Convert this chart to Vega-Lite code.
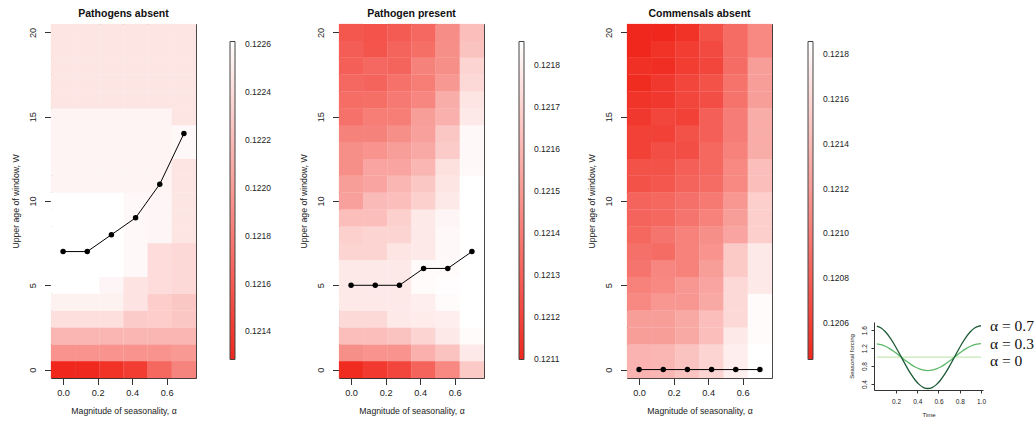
{
"$schema": "https://vega.github.io/schema/vega-lite/v6.json",
"background": "white",
"padding": {"left": 11, "top": 8, "right": 0, "bottom": 0},
"config": {
 "font": "Liberation Sans",
 "view": {"stroke": "#333", "strokeWidth": 1},
 "axis": {"grid": false, "domain": false, "tickSize": 6.5, "tickColor": "#333", "labelFontSize": 9.2, "titleFontSize": 8.7, "titleFontWeight": "normal", "labelColor": "#222", "titleColor": "#222", "labelFont": "Liberation Sans", "titleFont": "Liberation Sans"},
 "axisY": {"labelAngle": -90, "labelPadding": 7.5, "titlePadding": 7.5},
 "axisX": {"labelPadding": 4, "titlePadding": 9},
 "legend": {"gradientStrokeColor": "#444", "gradientStrokeWidth": 1, "labelFontSize": 8.5, "labelColor": "#222", "labelFont": "Liberation Sans"},
 "title": {"font": "Liberation Sans", "fontSize": 10.5, "fontWeight": "bold", "offset": 4, "color": "#111"}
},
"datasets": {
 "absent": [
  {"a":0,"w":0,"v":0.121283},{"a":0.14,"w":0,"v":0.121296},{"a":0.28,"w":0,"v":0.121349},{"a":0.42,"w":0,"v":0.121416},{"a":0.56,"w":0,"v":0.121681},{"a":0.7,"w":0,"v":0.121854},
  {"a":0,"w":1,"v":0.121947},{"a":0.14,"w":1,"v":0.121947},{"a":0.28,"w":1,"v":0.121947},{"a":0.42,"w":1,"v":0.121947},{"a":0.56,"w":1,"v":0.121947},{"a":0.7,"w":1,"v":0.121986},
  {"a":0,"w":2,"v":0.122159},{"a":0.14,"w":2,"v":0.122159},{"a":0.28,"w":2,"v":0.122159},{"a":0.42,"w":2,"v":0.122159},{"a":0.56,"w":2,"v":0.122159},{"a":0.7,"w":2,"v":0.122159},
  {"a":0,"w":3,"v":0.122411},{"a":0.14,"w":3,"v":0.122411},{"a":0.28,"w":3,"v":0.122411},{"a":0.42,"w":3,"v":0.122292},{"a":0.56,"w":3,"v":0.122305},{"a":0.7,"w":3,"v":0.122265},
  {"a":0,"w":4,"v":0.12253},{"a":0.14,"w":4,"v":0.12253},{"a":0.28,"w":4,"v":0.12253},{"a":0.42,"w":4,"v":0.122437},{"a":0.56,"w":4,"v":0.122305},{"a":0.7,"w":4,"v":0.122265},
  {"a":0,"w":5,"v":0.12261},{"a":0.14,"w":5,"v":0.12261},{"a":0.28,"w":5,"v":0.122557},{"a":0.42,"w":5,"v":0.122437},{"a":0.56,"w":5,"v":0.122398},{"a":0.7,"w":5,"v":0.122371},
  {"a":0,"w":6,"v":0.12261},{"a":0.14,"w":6,"v":0.12261},{"a":0.28,"w":6,"v":0.12261},{"a":0.42,"w":6,"v":0.12257},{"a":0.56,"w":6,"v":0.122398},{"a":0.7,"w":6,"v":0.122371},
  {"a":0,"w":7,"v":0.12261},{"a":0.14,"w":7,"v":0.12261},{"a":0.28,"w":7,"v":0.12261},{"a":0.42,"w":7,"v":0.12257},{"a":0.56,"w":7,"v":0.122398},{"a":0.7,"w":7,"v":0.122371},
  {"a":0,"w":8,"v":0.12261},{"a":0.14,"w":8,"v":0.12261},{"a":0.28,"w":8,"v":0.12261},{"a":0.42,"w":8,"v":0.12257},{"a":0.56,"w":8,"v":0.122557},{"a":0.7,"w":8,"v":0.122451},
  {"a":0,"w":9,"v":0.12261},{"a":0.14,"w":9,"v":0.12261},{"a":0.28,"w":9,"v":0.12261},{"a":0.42,"w":9,"v":0.12257},{"a":0.56,"w":9,"v":0.122557},{"a":0.7,"w":9,"v":0.122451},
  {"a":0,"w":10,"v":0.12261},{"a":0.14,"w":10,"v":0.12261},{"a":0.28,"w":10,"v":0.12261},{"a":0.42,"w":10,"v":0.12257},{"a":0.56,"w":10,"v":0.122557},{"a":0.7,"w":10,"v":0.122451},
  {"a":0,"w":11,"v":0.122544},{"a":0.14,"w":11,"v":0.122544},{"a":0.28,"w":11,"v":0.122544},{"a":0.42,"w":11,"v":0.122544},{"a":0.56,"w":11,"v":0.122544},{"a":0.7,"w":11,"v":0.122451},
  {"a":0,"w":12,"v":0.122544},{"a":0.14,"w":12,"v":0.122544},{"a":0.28,"w":12,"v":0.122544},{"a":0.42,"w":12,"v":0.122544},{"a":0.56,"w":12,"v":0.122544},{"a":0.7,"w":12,"v":0.122451},
  {"a":0,"w":13,"v":0.122544},{"a":0.14,"w":13,"v":0.122544},{"a":0.28,"w":13,"v":0.122544},{"a":0.42,"w":13,"v":0.122544},{"a":0.56,"w":13,"v":0.122544},{"a":0.7,"w":13,"v":0.12257},
  {"a":0,"w":14,"v":0.122544},{"a":0.14,"w":14,"v":0.122544},{"a":0.28,"w":14,"v":0.122544},{"a":0.42,"w":14,"v":0.122544},{"a":0.56,"w":14,"v":0.122544},{"a":0.7,"w":14,"v":0.12257},
  {"a":0,"w":15,"v":0.122544},{"a":0.14,"w":15,"v":0.122544},{"a":0.28,"w":15,"v":0.122544},{"a":0.42,"w":15,"v":0.122544},{"a":0.56,"w":15,"v":0.122544},{"a":0.7,"w":15,"v":0.122451},
  {"a":0,"w":16,"v":0.122451},{"a":0.14,"w":16,"v":0.122451},{"a":0.28,"w":16,"v":0.122451},{"a":0.42,"w":16,"v":0.122451},{"a":0.56,"w":16,"v":0.122451},{"a":0.7,"w":16,"v":0.122451},
  {"a":0,"w":17,"v":0.122451},{"a":0.14,"w":17,"v":0.122451},{"a":0.28,"w":17,"v":0.122451},{"a":0.42,"w":17,"v":0.122451},{"a":0.56,"w":17,"v":0.122451},{"a":0.7,"w":17,"v":0.122451},
  {"a":0,"w":18,"v":0.122451},{"a":0.14,"w":18,"v":0.122451},{"a":0.28,"w":18,"v":0.122451},{"a":0.42,"w":18,"v":0.122451},{"a":0.56,"w":18,"v":0.122451},{"a":0.7,"w":18,"v":0.122451},
  {"a":0,"w":19,"v":0.122451},{"a":0.14,"w":19,"v":0.122451},{"a":0.28,"w":19,"v":0.122451},{"a":0.42,"w":19,"v":0.122451},{"a":0.56,"w":19,"v":0.122451},{"a":0.7,"w":19,"v":0.122451},
  {"a":0,"w":20,"v":0.122451},{"a":0.14,"w":20,"v":0.122451},{"a":0.28,"w":20,"v":0.122451},{"a":0.42,"w":20,"v":0.122451},{"a":0.56,"w":20,"v":0.122451},{"a":0.7,"w":20,"v":0.122451}
 ],
 "present": [
  {"a":0,"w":0,"v":0.121115},{"a":0.14,"w":0,"v":0.12116},{"a":0.28,"w":0,"v":0.121206},{"a":0.42,"w":0,"v":0.121312},{"a":0.56,"w":0,"v":0.12144},{"a":0.7,"w":0,"v":0.121667},
  {"a":0,"w":1,"v":0.121463},{"a":0.14,"w":1,"v":0.121478},{"a":0.28,"w":1,"v":0.121478},{"a":0.42,"w":1,"v":0.121584},{"a":0.56,"w":1,"v":0.121644},{"a":0.7,"w":1,"v":0.12178},
  {"a":0,"w":2,"v":0.121629},{"a":0.14,"w":2,"v":0.121629},{"a":0.28,"w":2,"v":0.121644},{"a":0.42,"w":2,"v":0.121705},{"a":0.56,"w":2,"v":0.12178},{"a":0.7,"w":2,"v":0.121841},
  {"a":0,"w":3,"v":0.12172},{"a":0.14,"w":3,"v":0.12172},{"a":0.28,"w":3,"v":0.12178},{"a":0.42,"w":3,"v":0.121788},{"a":0.56,"w":3,"v":0.121796},{"a":0.7,"w":3,"v":0.121856},
  {"a":0,"w":4,"v":0.12178},{"a":0.14,"w":4,"v":0.12178},{"a":0.28,"w":4,"v":0.12178},{"a":0.42,"w":4,"v":0.121796},{"a":0.56,"w":4,"v":0.121841},{"a":0.7,"w":4,"v":0.121856},
  {"a":0,"w":5,"v":0.12178},{"a":0.14,"w":5,"v":0.12178},{"a":0.28,"w":5,"v":0.12178},{"a":0.42,"w":5,"v":0.121841},{"a":0.56,"w":5,"v":0.121848},{"a":0.7,"w":5,"v":0.121856},
  {"a":0,"w":6,"v":0.12178},{"a":0.14,"w":6,"v":0.12178},{"a":0.28,"w":6,"v":0.12178},{"a":0.42,"w":6,"v":0.121841},{"a":0.56,"w":6,"v":0.121841},{"a":0.7,"w":6,"v":0.121856},
  {"a":0,"w":7,"v":0.121705},{"a":0.14,"w":7,"v":0.121705},{"a":0.28,"w":7,"v":0.121765},{"a":0.42,"w":7,"v":0.12178},{"a":0.56,"w":7,"v":0.121833},{"a":0.7,"w":7,"v":0.121856},
  {"a":0,"w":8,"v":0.12169},{"a":0.14,"w":8,"v":0.121705},{"a":0.28,"w":8,"v":0.121705},{"a":0.42,"w":8,"v":0.12178},{"a":0.56,"w":8,"v":0.121833},{"a":0.7,"w":8,"v":0.121856},
  {"a":0,"w":9,"v":0.121629},{"a":0.14,"w":9,"v":0.121629},{"a":0.28,"w":9,"v":0.12169},{"a":0.42,"w":9,"v":0.12178},{"a":0.56,"w":9,"v":0.121826},{"a":0.7,"w":9,"v":0.121856},
  {"a":0,"w":10,"v":0.121523},{"a":0.14,"w":10,"v":0.121614},{"a":0.28,"w":10,"v":0.121629},{"a":0.42,"w":10,"v":0.12169},{"a":0.56,"w":10,"v":0.12178},{"a":0.7,"w":10,"v":0.121856},
  {"a":0,"w":11,"v":0.121516},{"a":0.14,"w":11,"v":0.121538},{"a":0.28,"w":11,"v":0.121599},{"a":0.42,"w":11,"v":0.121659},{"a":0.56,"w":11,"v":0.121765},{"a":0.7,"w":11,"v":0.121856},
  {"a":0,"w":12,"v":0.121463},{"a":0.14,"w":12,"v":0.121538},{"a":0.28,"w":12,"v":0.121538},{"a":0.42,"w":12,"v":0.121599},{"a":0.56,"w":12,"v":0.12175},{"a":0.7,"w":12,"v":0.121833},
  {"a":0,"w":13,"v":0.121463},{"a":0.14,"w":13,"v":0.121478},{"a":0.28,"w":13,"v":0.121516},{"a":0.42,"w":13,"v":0.121554},{"a":0.56,"w":13,"v":0.121675},{"a":0.7,"w":13,"v":0.121833},
  {"a":0,"w":14,"v":0.121418},{"a":0.14,"w":14,"v":0.121418},{"a":0.28,"w":14,"v":0.121463},{"a":0.42,"w":14,"v":0.121523},{"a":0.56,"w":14,"v":0.121659},{"a":0.7,"w":14,"v":0.121833},
  {"a":0,"w":15,"v":0.121357},{"a":0.14,"w":15,"v":0.121402},{"a":0.28,"w":15,"v":0.121402},{"a":0.42,"w":15,"v":0.121516},{"a":0.56,"w":15,"v":0.121584},{"a":0.7,"w":15,"v":0.12178},
  {"a":0,"w":16,"v":0.121342},{"a":0.14,"w":16,"v":0.121349},{"a":0.28,"w":16,"v":0.121387},{"a":0.42,"w":16,"v":0.121433},{"a":0.56,"w":16,"v":0.121569},{"a":0.7,"w":16,"v":0.121765},
  {"a":0,"w":17,"v":0.121327},{"a":0.14,"w":17,"v":0.121312},{"a":0.28,"w":17,"v":0.121357},{"a":0.42,"w":17,"v":0.121402},{"a":0.56,"w":17,"v":0.121493},{"a":0.7,"w":17,"v":0.12172},
  {"a":0,"w":18,"v":0.121297},{"a":0.14,"w":18,"v":0.121327},{"a":0.28,"w":18,"v":0.121312},{"a":0.42,"w":18,"v":0.121418},{"a":0.56,"w":18,"v":0.121463},{"a":0.7,"w":18,"v":0.121705},
  {"a":0,"w":19,"v":0.121289},{"a":0.14,"w":19,"v":0.121259},{"a":0.28,"w":19,"v":0.121312},{"a":0.42,"w":19,"v":0.121349},{"a":0.56,"w":19,"v":0.121463},{"a":0.7,"w":19,"v":0.121644},
  {"a":0,"w":20,"v":0.121266},{"a":0.14,"w":20,"v":0.121251},{"a":0.28,"w":20,"v":0.121281},{"a":0.42,"w":20,"v":0.121327},{"a":0.56,"w":20,"v":0.121455},{"a":0.7,"w":20,"v":0.121629}
 ],
 "commensal": [
  {"a":0,"w":0,"v":0.12136},{"a":0.14,"w":0,"v":0.121374},{"a":0.28,"w":0,"v":0.121459},{"a":0.42,"w":0,"v":0.121572},{"a":0.56,"w":0,"v":0.121742},{"a":0.7,"w":0,"v":0.121856},
  {"a":0,"w":1,"v":0.12136},{"a":0.14,"w":1,"v":0.121374},{"a":0.28,"w":1,"v":0.121459},{"a":0.42,"w":1,"v":0.121572},{"a":0.56,"w":1,"v":0.121742},{"a":0.7,"w":1,"v":0.121856},
  {"a":0,"w":2,"v":0.121218},{"a":0.14,"w":2,"v":0.121218},{"a":0.28,"w":2,"v":0.121289},{"a":0.42,"w":2,"v":0.121431},{"a":0.56,"w":2,"v":0.121714},{"a":0.7,"w":2,"v":0.121828},
  {"a":0,"w":3,"v":0.121218},{"a":0.14,"w":3,"v":0.121218},{"a":0.28,"w":3,"v":0.121289},{"a":0.42,"w":3,"v":0.121431},{"a":0.56,"w":3,"v":0.121601},{"a":0.7,"w":3,"v":0.121828},
  {"a":0,"w":4,"v":0.121076},{"a":0.14,"w":4,"v":0.121175},{"a":0.28,"w":4,"v":0.121175},{"a":0.42,"w":4,"v":0.121289},{"a":0.56,"w":4,"v":0.121601},{"a":0.7,"w":4,"v":0.121828},
  {"a":0,"w":5,"v":0.121034},{"a":0.14,"w":5,"v":0.121076},{"a":0.28,"w":5,"v":0.121175},{"a":0.42,"w":5,"v":0.12126},{"a":0.56,"w":5,"v":0.121601},{"a":0.7,"w":5,"v":0.121714},
  {"a":0,"w":6,"v":0.120948},{"a":0.14,"w":6,"v":0.121062},{"a":0.28,"w":6,"v":0.121034},{"a":0.42,"w":6,"v":0.121218},{"a":0.56,"w":6,"v":0.121502},{"a":0.7,"w":6,"v":0.121714},
  {"a":0,"w":7,"v":0.12092},{"a":0.14,"w":7,"v":0.120892},{"a":0.28,"w":7,"v":0.121034},{"a":0.42,"w":7,"v":0.121147},{"a":0.56,"w":7,"v":0.121502},{"a":0.7,"w":7,"v":0.121714},
  {"a":0,"w":8,"v":0.120863},{"a":0.14,"w":8,"v":0.120948},{"a":0.28,"w":8,"v":0.121034},{"a":0.42,"w":8,"v":0.121119},{"a":0.56,"w":8,"v":0.12126},{"a":0.7,"w":8,"v":0.121544},
  {"a":0,"w":9,"v":0.120835},{"a":0.14,"w":9,"v":0.120863},{"a":0.28,"w":9,"v":0.120948},{"a":0.42,"w":9,"v":0.121034},{"a":0.56,"w":9,"v":0.121218},{"a":0.7,"w":9,"v":0.121544},
  {"a":0,"w":10,"v":0.120835},{"a":0.14,"w":10,"v":0.120863},{"a":0.28,"w":10,"v":0.12092},{"a":0.42,"w":10,"v":0.120977},{"a":0.56,"w":10,"v":0.121175},{"a":0.7,"w":10,"v":0.121544},
  {"a":0,"w":11,"v":0.120722},{"a":0.14,"w":11,"v":0.12075},{"a":0.28,"w":11,"v":0.120835},{"a":0.42,"w":11,"v":0.120892},{"a":0.56,"w":11,"v":0.121076},{"a":0.7,"w":11,"v":0.121431},
  {"a":0,"w":12,"v":0.120722},{"a":0.14,"w":12,"v":0.120722},{"a":0.28,"w":12,"v":0.120807},{"a":0.42,"w":12,"v":0.120863},{"a":0.56,"w":12,"v":0.121076},{"a":0.7,"w":12,"v":0.121431},
  {"a":0,"w":13,"v":0.120608},{"a":0.14,"w":13,"v":0.120693},{"a":0.28,"w":13,"v":0.120693},{"a":0.42,"w":13,"v":0.120863},{"a":0.56,"w":13,"v":0.121034},{"a":0.7,"w":13,"v":0.121317},
  {"a":0,"w":14,"v":0.120608},{"a":0.14,"w":14,"v":0.120608},{"a":0.28,"w":14,"v":0.120722},{"a":0.42,"w":14,"v":0.120807},{"a":0.56,"w":14,"v":0.121005},{"a":0.7,"w":14,"v":0.121317},
  {"a":0,"w":15,"v":0.120551},{"a":0.14,"w":15,"v":0.120637},{"a":0.28,"w":15,"v":0.120608},{"a":0.42,"w":15,"v":0.120807},{"a":0.56,"w":15,"v":0.121005},{"a":0.7,"w":15,"v":0.121317},
  {"a":0,"w":16,"v":0.120523},{"a":0.14,"w":16,"v":0.120551},{"a":0.28,"w":16,"v":0.120637},{"a":0.42,"w":16,"v":0.120693},{"a":0.56,"w":16,"v":0.120934},{"a":0.7,"w":16,"v":0.121218},
  {"a":0,"w":17,"v":0.120466},{"a":0.14,"w":17,"v":0.120551},{"a":0.28,"w":17,"v":0.120637},{"a":0.42,"w":17,"v":0.120722},{"a":0.56,"w":17,"v":0.120934},{"a":0.7,"w":17,"v":0.121218},
  {"a":0,"w":18,"v":0.120495},{"a":0.14,"w":18,"v":0.120481},{"a":0.28,"w":18,"v":0.12058},{"a":0.42,"w":18,"v":0.120637},{"a":0.56,"w":18,"v":0.120892},{"a":0.7,"w":18,"v":0.121218},
  {"a":0,"w":19,"v":0.120438},{"a":0.14,"w":19,"v":0.120509},{"a":0.28,"w":19,"v":0.12058},{"a":0.42,"w":19,"v":0.120665},{"a":0.56,"w":19,"v":0.120892},{"a":0.7,"w":19,"v":0.121076},
  {"a":0,"w":20,"v":0.120438},{"a":0.14,"w":20,"v":0.120438},{"a":0.28,"w":20,"v":0.120509},{"a":0.42,"w":20,"v":0.120722},{"a":0.56,"w":20,"v":0.120892},{"a":0.7,"w":20,"v":0.121076}
 ],
 "opt1": [{"a":0,"w":7},{"a":0.14,"w":7},{"a":0.28,"w":8},{"a":0.42,"w":9},{"a":0.56,"w":11},{"a":0.7,"w":14}],
 "opt2": [{"a":0,"w":5},{"a":0.14,"w":5},{"a":0.28,"w":5},{"a":0.42,"w":6},{"a":0.56,"w":6},{"a":0.7,"w":7}],
 "opt3": [{"a":0,"w":0},{"a":0.14,"w":0},{"a":0.28,"w":0},{"a":0.42,"w":0},{"a":0.56,"w":0},{"a":0.7,"w":0}],
 "forcing": [
  {"alpha":"0","t":0.02,"f":1},{"alpha":"0","t":1,"f":1},
  {"alpha":"0.3","t":0.02,"f":1.298},{"alpha":"0.3","t":0.06,"f":1.279},{"alpha":"0.3","t":0.1,"f":1.243},{"alpha":"0.3","t":0.14,"f":1.191},{"alpha":"0.3","t":0.18,"f":1.128},{"alpha":"0.3","t":0.22,"f":1.056},{"alpha":"0.3","t":0.26,"f":0.981},{"alpha":"0.3","t":0.3,"f":0.907},{"alpha":"0.3","t":0.34,"f":0.839},{"alpha":"0.3","t":0.38,"f":0.781},{"alpha":"0.3","t":0.42,"f":0.737},{"alpha":"0.3","t":0.46,"f":0.709},{"alpha":"0.3","t":0.5,"f":0.7},{"alpha":"0.3","t":0.54,"f":0.709},{"alpha":"0.3","t":0.58,"f":0.737},{"alpha":"0.3","t":0.62,"f":0.781},{"alpha":"0.3","t":0.66,"f":0.839},{"alpha":"0.3","t":0.7,"f":0.907},{"alpha":"0.3","t":0.74,"f":0.981},{"alpha":"0.3","t":0.78,"f":1.056},{"alpha":"0.3","t":0.82,"f":1.128},{"alpha":"0.3","t":0.86,"f":1.191},{"alpha":"0.3","t":0.9,"f":1.243},{"alpha":"0.3","t":0.94,"f":1.279},{"alpha":"0.3","t":0.98,"f":1.298},{"alpha":"0.3","t":1,"f":1.3},
  {"alpha":"0.7","t":0.02,"f":1.694},{"alpha":"0.7","t":0.06,"f":1.651},{"alpha":"0.7","t":0.1,"f":1.566},{"alpha":"0.7","t":0.14,"f":1.446},{"alpha":"0.7","t":0.18,"f":1.298},{"alpha":"0.7","t":0.22,"f":1.131},{"alpha":"0.7","t":0.26,"f":0.956},{"alpha":"0.7","t":0.3,"f":0.784},{"alpha":"0.7","t":0.34,"f":0.625},{"alpha":"0.7","t":0.38,"f":0.49},{"alpha":"0.7","t":0.42,"f":0.387},{"alpha":"0.7","t":0.46,"f":0.322},{"alpha":"0.7","t":0.5,"f":0.3},{"alpha":"0.7","t":0.54,"f":0.322},{"alpha":"0.7","t":0.58,"f":0.387},{"alpha":"0.7","t":0.62,"f":0.49},{"alpha":"0.7","t":0.66,"f":0.625},{"alpha":"0.7","t":0.7,"f":0.784},{"alpha":"0.7","t":0.74,"f":0.956},{"alpha":"0.7","t":0.78,"f":1.131},{"alpha":"0.7","t":0.82,"f":1.298},{"alpha":"0.7","t":0.86,"f":1.446},{"alpha":"0.7","t":0.9,"f":1.566},{"alpha":"0.7","t":0.94,"f":1.651},{"alpha":"0.7","t":0.98,"f":1.694},{"alpha":"0.7","t":1,"f":1.7}
 ],
 "ends": [
  {"alpha":"0.7","t":1,"f":1.7,"label":"α = 0.7"},
  {"alpha":"0.3","t":1,"f":1.3,"label":"α = 0.3"},
  {"alpha":"0","t":1,"f":0.92,"label":"α = 0"}
 ]
},
"bounds": "flush",
"spacing": 143,
"resolve": {"scale": {"color": "independent"}, "legend": {"color": "independent"}},
"hconcat": [
 {
  "width": 145, "height": 354,
  "title": "Pathogens absent",
  "layer": [
   {"data": {"name": "absent"}, "mark": {"type": "rect", "width": 24.4, "height": 17.1},
    "encoding": {
     "x": {"field": "a", "type": "quantitative", "scale": {"domain": [-0.07, 0.77], "nice": false, "zero": false}, "axis": {"title": "Magnitude of seasonality, α", "values": [0, 0.2, 0.4, 0.6], "format": ".1f"}},
     "y": {"field": "w", "type": "quantitative", "scale": {"domain": [-0.5, 20.5], "nice": false, "zero": false}, "axis": {"title": "Upper age of window, W", "values": [0, 5, 10, 15, 20]}},
     "color": {"field": "v", "type": "quantitative", "scale": {"domain": [0.121283, 0.12261], "range": ["#f0271c", "#ffffff"], "interpolate": "rgb"},
      "legend": {"orient": "none", "direction": "vertical", "legendX": 179, "legendY": 17.5, "title": null, "padding": 0, "gradientLength": 318, "gradientThickness": 5, "labelOffset": 10, "labelOverlap": false, "format": ".4f", "values": [0.1214, 0.1216, 0.1218, 0.122, 0.1222, 0.1224, 0.1226]}}
    }},
   {"data": {"name": "opt1"}, "mark": {"type": "line", "color": "#000", "strokeWidth": 1}, "encoding": {"x": {"field": "a", "type": "quantitative"}, "y": {"field": "w", "type": "quantitative"}}},
   {"data": {"name": "opt1"}, "mark": {"type": "point", "filled": true, "color": "#000", "size": 30, "opacity": 1}, "encoding": {"x": {"field": "a", "type": "quantitative"}, "y": {"field": "w", "type": "quantitative"}}}
  ]
 },
 {
  "width": 145, "height": 354,
  "title": "Pathogen present",
  "layer": [
   {"data": {"name": "present"}, "mark": {"type": "rect", "width": 24.4, "height": 17.1},
    "encoding": {
     "x": {"field": "a", "type": "quantitative", "scale": {"domain": [-0.07, 0.77], "nice": false, "zero": false}, "axis": {"title": "Magnitude of seasonality, α", "values": [0, 0.2, 0.4, 0.6], "format": ".1f"}},
     "y": {"field": "w", "type": "quantitative", "scale": {"domain": [-0.5, 20.5], "nice": false, "zero": false}, "axis": {"title": "Upper age of window, W", "values": [0, 5, 10, 15, 20]}},
     "color": {"field": "v", "type": "quantitative", "scale": {"domain": [0.121098, 0.121856], "range": ["#f0271c", "#ffffff"], "interpolate": "rgb"},
      "legend": {"orient": "none", "direction": "vertical", "legendX": 180, "legendY": 17.5, "title": null, "padding": 0, "gradientLength": 318, "gradientThickness": 5, "labelOffset": 10, "labelOverlap": false, "format": ".4f", "values": [0.1211, 0.1212, 0.1213, 0.1214, 0.1215, 0.1216, 0.1217, 0.1218]}}
    }},
   {"data": {"name": "opt2"}, "mark": {"type": "line", "color": "#000", "strokeWidth": 1}, "encoding": {"x": {"field": "a", "type": "quantitative"}, "y": {"field": "w", "type": "quantitative"}}},
   {"data": {"name": "opt2"}, "mark": {"type": "point", "filled": true, "color": "#000", "size": 30, "opacity": 1}, "encoding": {"x": {"field": "a", "type": "quantitative"}, "y": {"field": "w", "type": "quantitative"}}}
  ]
 },
 {
  "bounds": "flush",
  "spacing": 102,
  "resolve": {"scale": {"color": "independent"}, "legend": {"color": "independent"}},
  "hconcat": [
   {
    "width": 145, "height": 354,
    "title": "Commensals absent",
    "layer": [
     {"data": {"name": "commensal"}, "mark": {"type": "rect", "width": 24.4, "height": 17.1},
      "encoding": {
       "x": {"field": "a", "type": "quantitative", "scale": {"domain": [-0.07, 0.77], "nice": false, "zero": false}, "axis": {"title": "Magnitude of seasonality, α", "values": [0, 0.2, 0.4, 0.6], "format": ".1f"}},
       "y": {"field": "w", "type": "quantitative", "scale": {"domain": [-0.5, 20.5], "nice": false, "zero": false}, "axis": {"title": "Upper age of window, W", "values": [0, 5, 10, 15, 20]}},
       "color": {"field": "v", "type": "quantitative", "scale": {"domain": [0.120438, 0.121856], "range": ["#f0271c", "#ffffff"], "interpolate": "rgb"},
        "legend": {"orient": "none", "direction": "vertical", "legendX": 181, "legendY": 17.5, "title": null, "padding": 0, "gradientLength": 318, "gradientThickness": 5, "labelOffset": 10, "labelOverlap": false, "format": ".4f", "values": [0.1206, 0.1208, 0.121, 0.1212, 0.1214, 0.1216, 0.1218]}}
      }},
     {"data": {"name": "opt3"}, "mark": {"type": "line", "color": "#000", "strokeWidth": 1}, "encoding": {"x": {"field": "a", "type": "quantitative"}, "y": {"field": "w", "type": "quantitative"}}},
     {"data": {"name": "opt3"}, "mark": {"type": "point", "filled": true, "color": "#000", "size": 30, "opacity": 1}, "encoding": {"x": {"field": "a", "type": "quantitative"}, "y": {"field": "w", "type": "quantitative"}}}
    ]
   },
   {
    "bounds": "flush",
    "spacing": 0,
    "resolve": {"scale": {"color": "independent"}, "legend": {"color": "independent"}},
    "vconcat": [
     {"width": 109, "height": 298, "view": {"stroke": null}, "data": {"values": []}, "mark": {"type": "point", "opacity": 0}, "encoding": {}},
     {
      "width": 109, "height": 68,
      "view": {"stroke": null},
      "encoding": {
       "x": {"field": "t", "type": "quantitative", "scale": {"domain": [-0.007, 1.019], "nice": false, "zero": false}, "axis": {"title": "Time", "values": [0.2, 0.4, 0.6, 0.8, 1.0], "format": ".1f", "labelFontSize": 6.5, "titleFontSize": 6, "tickSize": 3, "domain": true, "domainColor": "#333", "labelPadding": 5, "titlePadding": 7, "labelOverlap": false, "labelSeparation": 0, "labelBound": false, "labelFlush": false}},
       "y": {"field": "f", "type": "quantitative", "scale": {"domain": [0.267, 1.784], "nice": false, "zero": false}, "axis": {"title": "Seasonal forcing", "values": [0.4, 0.8, 1.2, 1.6], "format": ".1f", "labelFontSize": 6.5, "titleFontSize": 6, "tickSize": 3, "domain": true, "domainColor": "#333", "labelPadding": 4, "titlePadding": 7, "labelOverlap": false, "labelSeparation": 0, "labelBound": false, "labelFlush": false}}
      },
      "layer": [
       {"data": {"name": "forcing"}, "mark": {"type": "line", "strokeWidth": 1.3, "interpolate": "monotone"},
        "encoding": {
         "color": {"field": "alpha", "type": "nominal", "scale": {"domain": ["0", "0.3", "0.7"], "range": ["#c4e9b4", "#5cb868", "#1d5a36"]}, "legend": null}
        }},
       {"data": {"name": "ends"}, "mark": {"type": "text", "align": "left", "baseline": "middle", "dx": 9, "font": "Liberation Serif", "fontSize": 15.5, "color": "#111"},
        "encoding": {
         "text": {"field": "label"}
        }}
      ]
     }
    ]
   }
  ]
 }
]
}
